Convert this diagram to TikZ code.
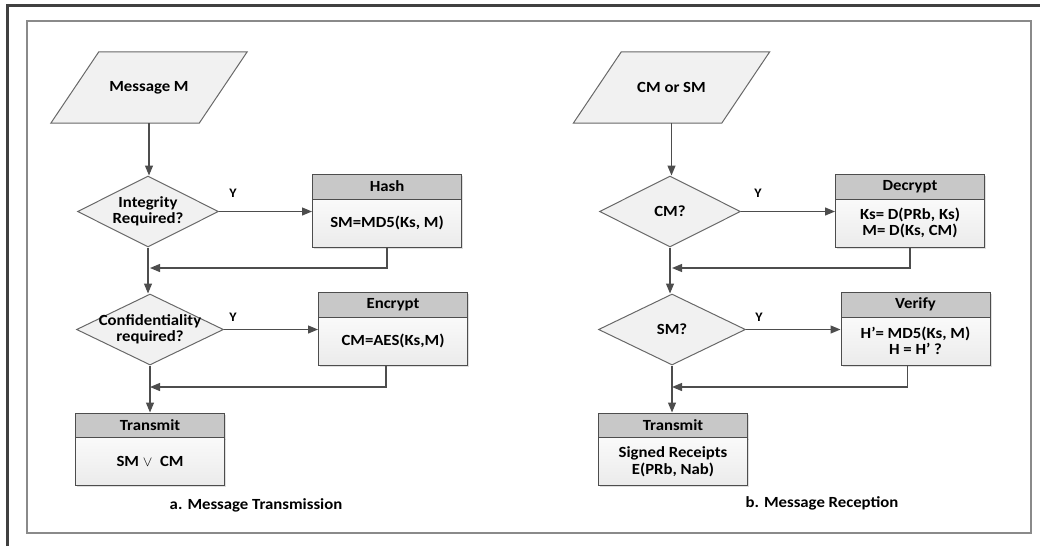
\documentclass[tikz,border=0pt]{standalone}
\usepackage{fontspec}
\setmainfont{Carlito}[FakeStretch=1.08]
\usetikzlibrary{arrows.meta,shapes.geometric,backgrounds,shadows}
\definecolor{framedark}{HTML}{404040}
\definecolor{framegray}{HTML}{8A8A8A}
\definecolor{linec}{HTML}{4D4D4D}
\definecolor{headc}{HTML}{C8C8C8}
\definecolor{bodytop}{HTML}{FAFAFA}
\definecolor{bodybot}{HTML}{EBEBEB}
\definecolor{shapefill}{HTML}{F1F1F1}
\begin{document}
\begin{tikzpicture}[x=1pt,y=-1pt,
  font=\bfseries\fontsize{15.5}{16.5}\selectfont,
  head/.style={rectangle, draw=linec, line width=1pt, fill=headc,
    minimum width=149pt, minimum height=25pt, inner sep=0pt,
    drop shadow={shadow xshift=1.5pt, shadow yshift=-1.5pt, opacity=0.25}},
  bodybox/.style={rectangle, draw=linec, line width=1pt, top color=bodytop,
    bottom color=bodybot, minimum width=149pt, minimum height=48pt,
    inner sep=0pt, align=center,
    drop shadow={shadow xshift=1.5pt, shadow yshift=-1.5pt, opacity=0.25}},
  decision/.style={diamond, draw=linec!85, line width=1pt, fill=shapefill,
    inner sep=0pt, minimum height=71pt},
  io/.style={rectangle, minimum width=148pt, minimum height=71pt,
    inner sep=0pt, align=center},
  ioshape/.style={draw=linec!85, line width=1pt, fill=shapefill},
  flow/.style={draw=linec, line width=1.2pt, -{Triangle[length=10pt,width=8pt]}},
  ymark/.style={font=\bfseries\fontsize{13}{13}\selectfont},
  caption/.style={font=\bfseries\fontsize{15.5}{16.5}\selectfont}]

\useasboundingbox (0,0) rectangle (1040,546);

% frames
\draw[framedark, line width=3pt] (7.5,546) -- (7.5,5.5) -- (1040,5.5);
\draw[framegray, line width=1.5pt] (27,21) rectangle (1031,533);

% ---------- a. Message Transmission ----------
\node[io] (msg) at (149,87.5) {Message M};
\node[decision, minimum width=141pt,
      label={[align=center]center:Integrity\\Required?}] (d1) at (148,211.5) {};
\node[head] (hashh) at (387,186.5) {Hash};
\node[bodybox] (hashb) at (387,223) {SM=MD5(Ks, M)};
\node[decision, minimum width=147pt,
      label={[align=center]center:Confidentiality\\required?}] (d2) at (150,329.5) {};
\node[head] (ench) at (393,304.5) {Encrypt};
\node[bodybox] (encb) at (393,341) {CM=AES(Ks,M)};
\node[head] (txah) at (150,425.5) {Transmit};
\node[bodybox] (txab) at (150,461.5) {SM~$\vee$~~CM};
\node[caption] (capa) at (256,505) {a. Message Transmission};
\node[ymark] (ya1) at (233,193) {Y};
\node[ymark] (ya2) at (233,317) {Y};
\coordinate (ja1) at (150,268);
\coordinate (ja2) at (150,387);

% ---------- b. Message Reception ----------
\node[io] (rcv) at (671.5,87.5) {CM or SM};
\node[decision, minimum width=141pt, label={center:CM?}] (r1) at (670,211.5) {};
\node[head] (dech) at (910,186.5) {Decrypt};
\node[bodybox] (decb) at (910,223) {Ks= D(PRb, Ks)\\M= D(Ks, CM)};
\node[decision, minimum width=147pt, label={center:SM?}] (r2) at (672,329.5) {};
\node[head] (verh) at (915.5,304.5) {Verify};
\node[bodybox] (verb) at (915.5,341) {H’= MD5(Ks, M)\\H = H’ ?};
\node[head] (txbh) at (673,425.5) {Transmit};
\node[bodybox] (txbb) at (673,461.5) {Signed Receipts\\E(PRb, Nab)};
\node[caption] (capb) at (822,503) {b. Message Reception};
\node[ymark] (yb1) at (758,193) {Y};
\node[ymark] (yb2) at (759,317) {Y};
\coordinate (jb1) at (672,268);
\coordinate (jb2) at (672,387);

% input parallelograms
\begin{scope}[on background layer]
  \draw[ioshape] ([xshift=24pt]msg.north west) -- ([xshift=24pt]msg.north east)
    -- ([xshift=-24pt]msg.south east) -- ([xshift=-24pt]msg.south west) -- cycle;
  \draw[ioshape] ([xshift=24pt]rcv.north west) -- ([xshift=24pt]rcv.north east)
    -- ([xshift=-24pt]rcv.south east) -- ([xshift=-24pt]rcv.south west) -- cycle;
\end{scope}

% connectors, transmission side
\draw[flow] (msg.south) -- (msg.south |- d1.north);
\draw[flow] (d1.east) -- (d1.east -| hashb.west);
\draw[flow] (hashb.south) |- (ja1);
\draw[flow] (d1.south) -- (d1.south |- d2.north);
\draw[flow] (d2.east) -- (d2.east -| encb.west);
\draw[flow] ([xshift=-7pt]encb.south) |- (ja2);
\draw[flow] (d2.south) -- (d2.south |- txah.north);

% connectors, reception side
\draw[flow] (rcv.south) -- (rcv.south |- r1.north);
\draw[flow] (r1.east) -- (r1.east -| decb.west);
\draw[flow] (decb.south) |- (jb1);
\draw[flow] (r1.south) -- (r1.south |- r2.north);
\draw[flow] (r2.east) -- (r2.east -| verb.west);
\draw[flow] ([xshift=-8pt]verb.south) |- (jb2);
\draw[flow] (r2.south) -- (r2.south |- txbh.north);
\end{tikzpicture}
\end{document}
